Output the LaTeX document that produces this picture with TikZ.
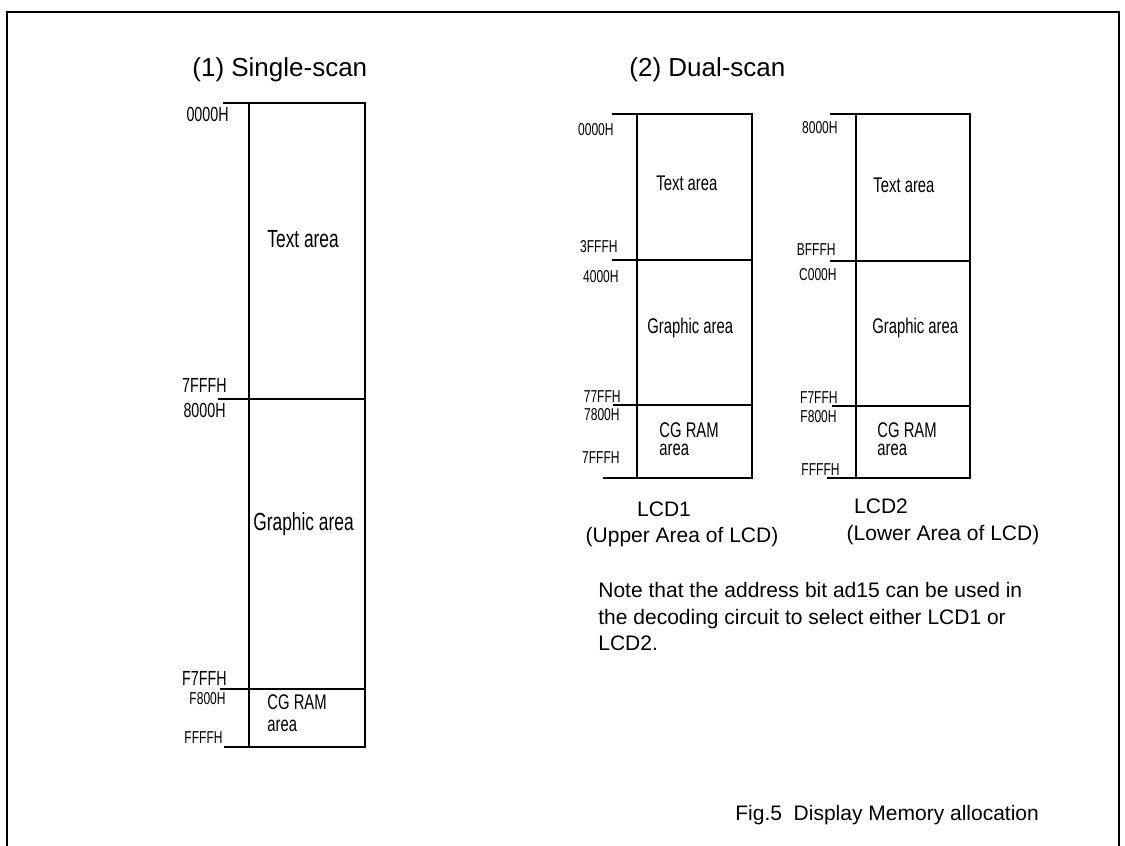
\documentclass[tikz,border=0pt]{standalone}
\usepackage{fontspec}
\setmainfont{Liberation Sans}
\newfontfamily\narrowfont[FakeStretch=0.7]{Liberation Sans}
\usepackage{tikz}

\tikzset{
  addr/.style={anchor=base east, inner sep=0pt, font=\narrowfont\fontsize{10.2}{12}\selectfont},
  addrsm/.style={addr, font=\narrowfont\fontsize{8.6}{10}\selectfont},
  areatxt/.style={anchor=base west, inner sep=0pt, font=\narrowfont\fontsize{12.4}{14}\selectfont},
  areasm/.style={areatxt, font=\narrowfont\fontsize{10.6}{12}\selectfont},
  cgsingle/.style={areatxt, align=left, font=\narrowfont\fontsize{10.6}{11}\selectfont},
  cgdual/.style={areatxt, align=left, font=\narrowfont\fontsize{10.6}{9}\selectfont},
  caption/.style={inner sep=0pt, font=\fontsize{10.5}{13}\selectfont},
  title/.style={anchor=base west, inner sep=0pt, font=\fontsize{13}{15}\selectfont},
  memline/.style={line width=1.35pt}
}

\begin{document}
\begin{tikzpicture}[x=0.5pt, y=-0.5pt]
    \useasboundingbox (0, 0) rectangle (1125, 846);
    % frame
    \draw[line width=1pt] (7, 846) -- (7, 12) -- (1119, 12) -- (1119, 846);

    % (1) single-scan
    \node[title] (single) at (192, 76) {(1) Single-scan};
    {
      \draw[memline] (223, 103) -- (365, 103) -- (365, 747) -- (224, 747);
      \draw[memline] (249, 103) -- (249, 747);
      \draw[memline] (218, 399) -- (365, 399);
      \draw[memline] (220, 689) -- (365, 689);
    }
    \node[addr] (s0) at (229, 121) {0000H};
    \node[addr] (s1) at (227, 392) {7FFFH};
    \node[addr] (s2) at (226, 417) {8000H};
    \node[addr] (s3) at (227, 685) {F7FFH};
    \node[addrsm] (s4) at (226, 704) {F800H};
    \node[addrsm] (s5) at (223, 743) {FFFFH};
    \node[areatxt] (stext) at (267, 247) {Text area};
    \node[areatxt] (sgraph) at (253, 530) {Graphic area};
    \node[cgsingle] (scg) at (267, 731) {CG RAM\\area};

    % (2) dual-scan
    \node[title] (dual) at (629, 76) {(2) Dual-scan};
    % LCD1
    {
      \draw[memline] (612, 114) -- (752, 114) -- (752, 478) -- (603, 478);
      \draw[memline] (637, 114) -- (637, 478);
      \draw[memline] (612, 260) -- (752, 260);
      \draw[memline] (613, 405) -- (752, 405);
    }
    \node[addrsm] (a0) at (614, 135) {0000H};
    \node[addrsm] (a1) at (618, 252) {3FFFH};
    \node[addrsm] (a2) at (619, 282) {4000H};
    \node[addrsm] (a3) at (621, 402) {77FFH};
    \node[addrsm] (a4) at (620, 420) {7800H};
    \node[addrsm] (a5) at (620, 463) {7FFFH};
    \node[areasm] (atext) at (656, 190) {Text area};
    \node[areasm] (agraph) at (647, 333) {Graphic area};
    \node[cgdual] (acg) at (659, 455) {CG RAM\\area};
    \node[caption, anchor=base] (lcd1) at (664, 516) {LCD1};
    \node[caption, anchor=base] (lcd1b) at (682, 542) {(Upper Area of LCD)};
    % LCD2
    {
      \draw[memline] (830, 114) -- (970, 114) -- (970, 478) -- (827, 478);
      \draw[memline] (856, 114) -- (856, 478);
      \draw[memline] (830, 261) -- (970, 261);
      \draw[memline] (832, 406) -- (970, 406);
    }
    \node[addrsm] (b0) at (838, 133) {8000H};
    \node[addrsm] (b1) at (836, 255) {BFFFH};
    \node[addrsm] (b2) at (837, 280) {C000H};
    \node[addrsm] (b3) at (838, 403) {F7FFH};
    \node[addrsm] (b4) at (837, 422) {F800H};
    \node[addrsm] (b5) at (840, 475) {FFFFH};
    \node[areasm] (btext) at (873, 192) {Text area};
    \node[areasm] (bgraph) at (872, 333) {Graphic area};
    \node[cgdual] (bcg) at (877, 455) {CG RAM\\area};
    \node[caption, anchor=base] (lcd2) at (881, 513) {LCD2};
    \node[caption, anchor=base] (lcd2b) at (943, 540) {(Lower Area of LCD)};

    % note and figure caption
    \node[caption, anchor=base west] (note1) at (598, 597) {Note that the address bit ad15 can be used in};
    \node[caption, anchor=base west] (note2) at (598, 624) {the decoding circuit to select either LCD1 or};
    \node[caption, anchor=base west] (note3) at (598, 650) {LCD2.};
    \node[caption, anchor=base west] (fig) at (735, 820) {Fig.5\ \ Display Memory allocation};
  \end{tikzpicture}
\end{document}
